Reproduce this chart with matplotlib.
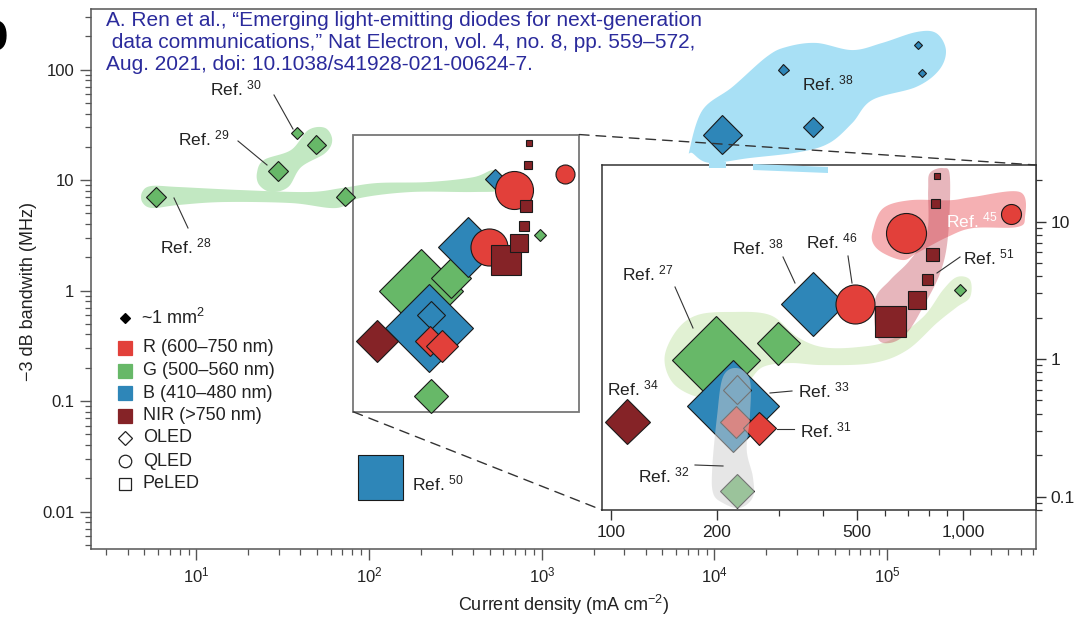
import numpy as np
import matplotlib
matplotlib.use('Agg')
import matplotlib.pyplot as plt
from matplotlib.lines import Line2D
from matplotlib.patches import Polygon, ConnectionPatch, Rectangle
from matplotlib.ticker import LogLocator, FixedLocator, FuncFormatter, NullFormatter

plt.rcParams['font.family'] = ['Liberation Sans', 'DejaVu Sans']
plt.rcParams['mathtext.fontset'] = 'custom'
plt.rcParams['mathtext.rm'] = 'Liberation Sans'
plt.rcParams['mathtext.it'] = 'Liberation Sans:italic'
plt.rcParams['mathtext.bf'] = 'Liberation Sans:bold'
plt.rcParams['mathtext.default'] = 'regular'

# ---------------- data ----------------
# devices inside the zoomed region (shown in the main plot and the inset)
zoom_current = [199, 298, 222, 228, 226, 264, 228, 111, 376, 493, 687, 1368,
                621, 738, 789, 815, 832, 845, 980]
zoom_bandwidth = [0.98, 1.30, 0.457, 0.60, 0.35, 0.313, 0.110, 0.35, 2.50, 2.50, 8.2, 11.3,
                  1.90, 2.69, 3.80, 5.77, 13.6, 21.5, 3.18]
zoom_band = ['G', 'G', 'B', 'B', 'R', 'R', 'G', 'NIR', 'B', 'R', 'R', 'R',
             'NIR', 'NIR', 'NIR', 'NIR', 'NIR', 'NIR', 'G']
zoom_type = ['OLED'] * 9 + ['QLED'] * 3 + ['PeLED'] * 6 + ['OLED']
zoom_area = [88, 43, 92, 29, 32, 33, 35, 45, 64, 39, 40, 20, 31, 18, 11, 13, 9, 6, 13]

# devices only in the wide view
wide_current = [5.8, 72.6, 29.8, 38.4, 49.4, 535, 116, 1.11e4, 3.73e4, 2.5e4, 1.51e5, 1.59e5]
wide_bandwidth = [7.0, 7.0, 12.1, 26.6, 20.7, 10.2, 0.0205, 25.5, 30.2, 99, 167, 93]
wide_band = ['G', 'G', 'G', 'G', 'G', 'B', 'B', 'B', 'B', 'B', 'B', 'B']
wide_type = ['OLED'] * 6 + ['PeLED'] + ['OLED'] * 5
wide_area = [21, 19, 21, 13, 19, 20, 45, 39, 20, 11, 8, 8]

# shaded groups (outline in data units)
ref28_x = [4.85, 5.47, 7.83, 17.9, 44.4, 69.8, 111, 220, 400, 522, 597, 574, 400, 175, 88.7,
           64.4, 35.3, 14.3, 7.83, 5.53, 4.85]
ref28_y = [7.79, 8.83, 8.65, 8.12, 7.79, 8.47, 9.39, 9.59, 10.6, 12.3, 10.6, 8.12, 7.79, 7.79, 6.87,
           5.58, 6.19, 6.32, 5.94, 5.58, 6.32]
ref29_x = [22.4, 24.6, 35.3, 44.4, 55.6, 61.1, 55.6, 40.4, 34.0, 27.1, 23.1]
ref29_y = [11.6, 15.2, 18.7, 28.3, 29.6, 23.0, 17.5, 13.1, 8.65, 7.79, 9.01]
ref38_x = [7170, 8530, 12700, 20000, 26100, 38900, 62800, 93600, 147000, 192000, 219000, 200000,
           147000, 81900, 62800, 46200, 31000, 15900, 9350, 7460]
ref38_y = [18.7, 43, 69.5, 130, 160, 174, 150, 174, 218, 214, 150, 99, 69.5, 53, 32.8, 21.6, 17.9,
           15.8, 14.3, 17.5]
ref27_x = [142, 154, 176, 218, 283, 338, 400, 500, 621, 770, 877, 961, 1047, 1047, 961, 843, 693,
           555, 400, 323, 270, 243, 208, 176, 150]
ref27_y = [1.03, 1.63, 2.09, 2.20, 2.09, 1.45, 1.22, 1.22, 1.37, 2.02, 3.18, 3.95, 3.76, 2.82, 2.39,
           1.83, 1.16, 0.935, 0.904, 0.935, 0.875, 0.669, 0.53, 0.53, 0.669]
ref32_x = [228, 208, 200, 194, 195, 208, 232, 253, 253, 243, 248, 248]
ref32_y = [0.86, 0.74, 0.378, 0.164, 0.106, 0.0897, 0.0824, 0.099, 0.139, 0.218, 0.378, 0.703]
ref45_x = [555, 593, 707, 918, 1067, 1452, 1500, 1423, 1067, 902, 740, 676, 593, 555]
ref45_y = [8.67, 12.5, 14.3, 14.3, 15.1, 16.4, 10.8, 9.12, 8.97, 7.71, 5.9, 5.25, 5.9, 6.98]
ref51_x = [805, 877, 918, 906, 861, 770, 693, 621, 570, 562, 621, 707, 790, 796]
ref51_y = [22.5, 24.5, 21.1, 7.71, 4.22, 2.39, 1.55, 1.31, 1.45, 2.69, 3.76, 5.25, 8.25, 16.9]

legend_labels = ['R (600–750 nm)', 'G (500–560 nm)', 'B (410–480 nm)', 'NIR (>750 nm)']
type_labels = ['OLED', 'QLED', 'PeLED']

# ---------------- styles ----------------
W, H, DPI = 1074, 619, 100
COL = {'R': '#e2403a', 'G': '#67b868', 'B': '#2e86b8', 'NIR': '#852327'}
MARK = {'OLED': 'D', 'QLED': 'o', 'PeLED': 's'}
FS = 12.5
TFS = 12


def ms_for(w, m):
    pts = w * 72.0 / DPI
    return pts / np.sqrt(2) if m == 'D' else pts


def smooth_closed(xs, ys, n=16):
    pts = np.column_stack([np.log10(xs), np.log10(ys)])
    N = len(pts)
    out = []
    for i in range(N):
        p0, p1, p2, p3 = pts[(i - 1) % N], pts[i], pts[(i + 1) % N], pts[(i + 2) % N]
        for t in np.linspace(0, 1, n, endpoint=False):
            t2, t3 = t * t, t * t * t
            out.append(0.5 * (2 * p1 + (-p0 + p2) * t + (2 * p0 - 5 * p1 + 4 * p2 - p3) * t2
                              + (-p0 + 3 * p1 - 3 * p2 + p3) * t3))
    out = np.array(out)
    return np.column_stack([10 ** out[:, 0], 10 ** out[:, 1]])


def F(px, py):
    return px / W, 1 - py / H


fig = plt.figure(figsize=(W / DPI, H / DPI), dpi=DPI)
ax = fig.add_axes([91 / W, 1 - 549 / H, 945 / W, 540 / H])
ax.set_xscale('log')
ax.set_yscale('log')
ax.set_xlim(2.45, 7.28e5)
ax.set_ylim(0.00458, 353)

ax.xaxis.set_major_locator(LogLocator(base=10, numticks=12))
ax.xaxis.set_minor_locator(LogLocator(base=10, subs=np.arange(2, 10), numticks=12))
ax.xaxis.set_minor_formatter(NullFormatter())
ax.yaxis.set_major_locator(LogLocator(base=10, numticks=12))
ax.yaxis.set_minor_locator(LogLocator(base=10, subs=np.arange(2, 10), numticks=12))
ax.yaxis.set_minor_formatter(NullFormatter())
ax.yaxis.set_major_formatter(FuncFormatter(lambda v, p: f'{v:g}'))
ax.tick_params(which='major', direction='out', length=8, width=1, color='#555',
               labelsize=TFS, labelcolor='#222', pad=4)
ax.tick_params(which='minor', direction='out', length=4, width=0.9, color='#555')
for s in ax.spines.values():
    s.set_color('#555')
    s.set_linewidth(1.1)
ax.set_xlabel('Current density (mA cm$^{-2}$)', fontsize=13, color='#222', labelpad=5)
ax.set_ylabel('−3 dB bandwith (MHz)', fontsize=13, color='#222')
ax.yaxis.set_label_coords(-0.057, 0.476)

# shaded groups in the main view
ax.add_patch(Polygon(smooth_closed(ref28_x, ref28_y), closed=True, fc='#c2e8c2', ec='none', zorder=1))
ax.add_patch(Polygon(smooth_closed(ref29_x, ref29_y), closed=True, fc='#c2e8c2', ec='none', zorder=1))
ax.add_patch(Polygon(smooth_closed(ref38_x, ref38_y), closed=True, fc='#a8e0f5', ec='none', zorder=1))

# zoom region box
bx0, bx1, by0, by1 = 81, 1650, 0.0798, 25.8
ax.add_patch(Rectangle((bx0, by0), bx1 - bx0, by1 - by0, fill=False, ec='#777', lw=1.3, zorder=2))

z = 3
for x, y, b, t, w in zip(wide_current, wide_bandwidth, wide_band, wide_type, wide_area):
    ax.plot([x], [y], ls='none', marker=MARK[t], ms=ms_for(w, MARK[t]), mfc=COL[b],
            mec='#1a1a1a', mew=0.8, zorder=z)
    z += 0.01
for x, y, b, t, w in zip(zoom_current, zoom_bandwidth, zoom_band, zoom_type, zoom_area):
    ax.plot([x], [y], ls='none', marker=MARK[t], ms=ms_for(0.95 * w, MARK[t]), mfc=COL[b],
            mec='#1a1a1a', mew=0.8, zorder=z)
    z += 0.01

# ---------------- inset ----------------
ax2 = fig.add_axes([602 / W, 1 - 510 / H, 434 / W, 345 / H], zorder=5)
ax2.set_xscale('log')
ax2.set_yscale('log')
ax2.set_xlim(94.3, 1612)
ax2.set_ylim(0.0798, 25.8)
ax2.xaxis.set_major_locator(FixedLocator([100, 200, 500, 1000]))
ax2.xaxis.set_major_formatter(FuncFormatter(lambda v, p: f'{v:,.0f}'))
ax2.xaxis.set_minor_locator(FixedLocator([300, 400, 600, 700, 800, 900]))
ax2.xaxis.set_minor_formatter(NullFormatter())
ax2.yaxis.set_major_locator(LogLocator(base=10, numticks=12))
ax2.yaxis.set_minor_locator(LogLocator(base=10, subs=np.arange(2, 10), numticks=12))
ax2.yaxis.set_minor_formatter(NullFormatter())
ax2.yaxis.set_major_formatter(FuncFormatter(lambda v, p: f'{v:g}'))
ax2.yaxis.tick_right()
ax2.tick_params(which='major', direction='out', length=7, width=1, color='#333',
                labelsize=FS, labelcolor='#222')
ax2.tick_params(which='minor', direction='out', length=4, width=0.9, color='#333')
for s in ax2.spines.values():
    s.set_color('#333')
    s.set_linewidth(1.1)

ax2.add_patch(Polygon(smooth_closed(ref27_x, ref27_y), closed=True, fc='#e1f1d3', ec='none', zorder=1))
ax2.add_patch(Polygon(smooth_closed(ref45_x, ref45_y), closed=True, fc='#f5b0b3', ec='none', zorder=1))
ax2.add_patch(Polygon(smooth_closed(ref51_x, ref51_y), closed=True, fc='#c0404f', alpha=0.38,
                      ec='none', zorder=1.5))
z = 3
for x, y, b, t, w in zip(zoom_current, zoom_bandwidth, zoom_band, zoom_type, zoom_area):
    ax2.plot([x], [y], ls='none', marker=MARK[t], ms=ms_for(w, MARK[t]), mfc=COL[b],
             mec='#1a1a1a', mew=0.8, zorder=z)
    z += 0.01
ax2.add_patch(Polygon(smooth_closed(ref32_x, ref32_y), closed=True, fc='#cfcfcf', alpha=0.5,
                      ec='none', zorder=10))

# connectors
for xyA, xyB in [((bx1, by1), (1, 1)), ((bx0, by0), (0, 0))]:
    con = ConnectionPatch(xyA=xyA, coordsA=ax.transData, xyB=xyB, coordsB=ax2.transAxes,
                          ls=(0, (7, 5)), color='#333', lw=1.0, zorder=20)
    fig.add_artist(con)

# light-blue slivers at the inset top
for poly in [[(709, 162), (726, 162), (726, 168), (709, 168)],
             [(753, 164), (828, 167), (828, 173), (753, 170)]]:
    fig.add_artist(Polygon([F(*p) for p in poly], closed=True, transform=fig.transFigure,
                           fc='#a8e0f5', ec='none', zorder=21))

# ---------------- annotations ----------------
def ref(px, py, num, color='#222'):
    fig.text(*F(px, py), f'Ref. $^{{{num}}}$', fontsize=FS, color=color, va='center', ha='left',
             zorder=30)


def lead(p0, p1):
    fig.add_artist(Line2D([F(*p0)[0], F(*p1)[0]], [F(*p0)[1], F(*p1)[1]], transform=fig.transFigure,
                          color='#333', lw=0.8, zorder=30))


ref(210, 88, 30); lead((274, 95), (293, 129))
ref(178, 138, 29); lead((238, 141), (267, 165))
ref(160, 246, 28); lead((174, 198), (188, 228))
ref(412, 483, 50)
ref(802, 83, 38)
ref(622, 273, 27); lead((675, 287), (693, 328))
ref(732, 247, 38); lead((783, 257), (795, 283))
ref(806, 241, 46); lead((848, 256), (852, 283))
ref(946, 220, 45, color='white')
ref(963, 257, 51); lead((960, 257), (937, 273))
ref(607, 388, 34)
ref(798, 390, 33); lead((792, 391), (770, 393))
ref(800, 430, 31); lead((794, 429), (777, 429))
ref(638, 475, 32); lead((695, 465), (723, 466))

cite = ['A. Ren et al., “Emerging light-emitting diodes for next-generation',
        ' data communications,” Nat Electron, vol. 4, no. 8, pp. 559–572,',
        'Aug. 2021, doi: 10.1038/s41928-021-00624-7.']
for i, line in enumerate(cite):
    fig.text(*F(106, 20 + 22 * i), line, fontsize=15, color='#2b2b9c', va='center', ha='left', zorder=30)

# panel letter (cropped at the left edge, as in the source figure)
fig.text(*F(-26, 36), 'b', fontsize=40, fontweight='bold', va='center', ha='left', color='k')

# ---------------- legend (manual) ----------------
def leg_marker(px, py, m, ms, fc, ec):
    fig.add_artist(Line2D([F(px, py)[0]], [F(px, py)[1]], transform=fig.transFigure, ls='none',
                          marker=m, ms=ms, mfc=fc, mec=ec, mew=0.9, zorder=30))


leg_marker(125, 318, 'D', 5, 'k', 'k')
fig.text(*F(141, 318), '~1 mm$^{2}$', fontsize=13, va='center', ha='left', color='#222')
for i, (lab, key) in enumerate(zip(legend_labels, ['R', 'G', 'B', 'NIR'])):
    yy = 348 + 22.5 * i
    leg_marker(125, yy, 's', 9.5, COL[key], COL[key])
    fig.text(*F(143, yy), lab, fontsize=13, va='center', ha='left', color='#222')
for i, (lab, key) in enumerate(zip(type_labels, ['OLED', 'QLED', 'PeLED'])):
    yy = 438 + 23 * i
    leg_marker(125, yy, MARK[key], 7.5 if key == 'OLED' else 9, 'white', '#222')
    fig.text(*F(143, yy), lab, fontsize=13, va='center', ha='left', color='#222')

fig.savefig('out.png', dpi=DPI)
